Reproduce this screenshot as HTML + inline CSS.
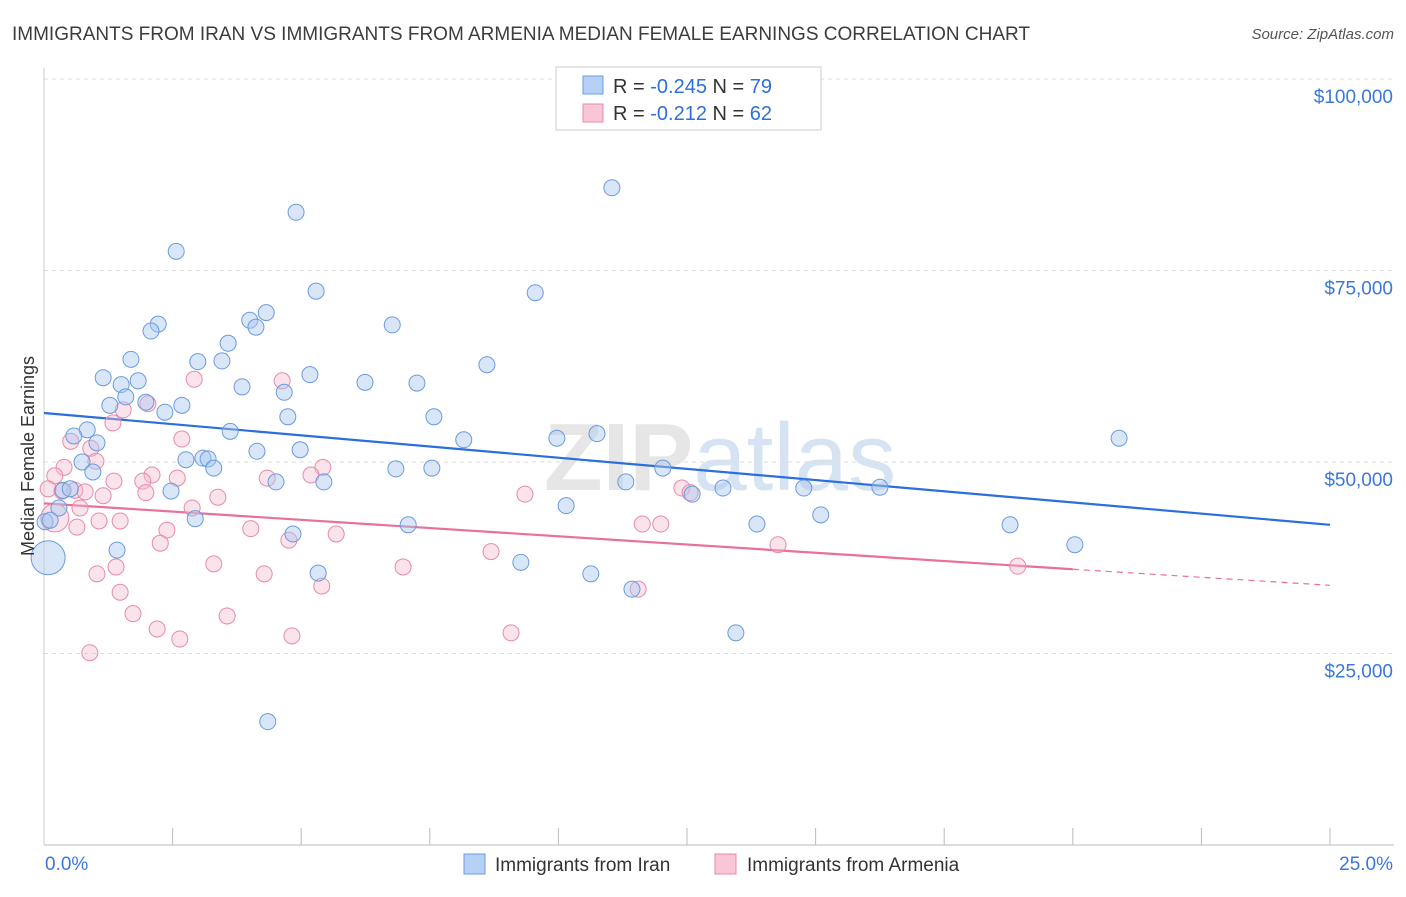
<!DOCTYPE html>
<html><head><meta charset="utf-8"><style>
body{margin:0;background:#fff;font-family:"Liberation Sans",sans-serif}
svg text{font-family:"Liberation Sans",sans-serif}
</style></head><body>
<svg id="chart" width="1406" height="892" xmlns="http://www.w3.org/2000/svg">
<text x="12" y="40" font-size="19" fill="#3c3c3c">IMMIGRANTS FROM IRAN VS IMMIGRANTS FROM ARMENIA MEDIAN FEMALE EARNINGS CORRELATION CHART</text>
<text x="1394" y="39" font-size="15" fill="#555" font-style="italic" text-anchor="end">Source: ZipAtlas.com</text>
<text x="720" y="490" font-size="96" fill="#e6e6e6" text-anchor="middle" font-weight="bold">ZIP<tspan fill="#d6e3f3" font-weight="normal">atlas</tspan></text>
<g id="grid"></g>
<g id="axes"></g>
<g id="trends"></g>
<g id="pts"></g>
<text transform="translate(34,456) rotate(-90)" font-size="18" fill="#333" text-anchor="middle">Median Female Earnings</text>
<g>
<rect x="556" y="67" width="265" height="63" fill="#fff" stroke="#ccc"/>
<rect x="583" y="76" width="20" height="18" fill="#b5d0f5" stroke="#6a9be0"/>
<text x="613" y="93" font-size="20" fill="#333">R = <tspan fill="#2f6fd8">-0.245</tspan>   N = <tspan fill="#2f6fd8">79</tspan></text>
<rect x="583" y="104" width="20" height="18" fill="#f8c6d6" stroke="#e88aa8"/>
<text x="613" y="120" font-size="20" fill="#333">R =  <tspan fill="#2f6fd8">-0.212</tspan>   N = <tspan fill="#2f6fd8">62</tspan></text>
</g>
<g>
<rect x="464" y="854" width="21" height="20" fill="#b5d0f5" stroke="#6a9be0"/>
<text x="495" y="871" font-size="19" fill="#333">Immigrants from Iran</text>
<rect x="715" y="854" width="21" height="20" fill="#f8c6d6" stroke="#e88aa8"/>
<text x="747" y="871" font-size="19" fill="#333">Immigrants from Armenia</text>
</g>
</svg>
<script>
const yTicks=[25000,50000,75000,100000];
const yTickLabels=["$25,000","$50,000","$75,000","$100,000"];
const xEndLabels=["0.0%","25.0%"];
const iranX=[11.04,4.90,2.57,5.29,9.55,4.32,4.00,4.12,2.22,2.08,6.77,3.58,1.69,2.99,3.46,8.61,1.15,5.17,1.50,1.83,6.24,7.25,3.85,4.67,1.59,1.28,1.98,2.68,2.35,4.74,7.58,3.62,0.84,0.58,1.03,20.90,9.97,10.75,8.16,4.14,4.98,3.09,2.76,3.19,3.30,0.74,0.95,6.84,7.54,12.03,4.51,5.44,11.31,2.47,0.37,0.51,13.20,14.77,16.25,12.60,10.15,0.29,2.94,15.10,7.08,13.86,18.78,0.02,0.12,1.42,20.04,4.84,9.27,5.33,10.63,11.43,13.45,4.35,0.08];
const iranY=[85.8,82.6,77.5,72.3,72.1,69.5,68.5,67.6,68.0,67.1,67.9,65.5,63.4,63.1,63.2,62.7,61.0,61.4,60.1,60.6,60.4,60.3,59.8,59.1,58.5,57.4,57.8,57.4,56.5,55.9,55.9,54.0,54.2,53.4,52.5,53.1,53.1,53.7,52.9,51.4,51.6,50.5,50.3,50.4,49.2,50.0,48.7,49.1,49.2,49.2,47.4,47.4,47.4,46.2,46.3,46.5,46.6,46.6,46.7,45.8,44.3,44.0,42.6,43.1,41.8,41.9,41.8,42.2,42.4,38.5,39.2,40.6,36.9,35.5,35.4,33.4,27.7,16.1,37.5];
const armX=[2.92,4.63,1.54,1.34,2.02,2.68,0.52,0.91,0.39,1.01,5.42,2.10,1.36,1.92,2.59,4.34,5.19,0.21,0.08,0.35,0.60,0.80,1.15,1.98,3.38,9.35,12.40,12.56,0.70,2.88,1.07,1.48,0.64,2.39,4.02,5.68,4.76,2.26,11.63,11.99,8.69,14.27,1.40,3.30,6.98,4.28,1.03,18.93,1.48,5.40,11.55,1.73,3.56,2.20,2.64,4.82,9.08,0.89,0.21];
const armY=[60.8,60.6,56.8,55.1,57.6,53.0,52.7,51.8,49.3,50.1,49.3,48.3,47.5,47.5,47.9,47.9,48.3,48.2,46.5,46.2,46.3,46.1,45.6,46.0,45.4,45.8,46.6,46.0,44.0,44.0,42.3,42.3,41.5,41.1,41.3,40.6,39.8,39.4,41.9,41.9,38.3,39.2,36.3,36.7,36.3,35.4,35.4,36.4,33.0,33.8,33.4,30.2,29.9,28.2,26.9,27.3,27.7,25.1,42.7];
const iranBig=[78];
const armBig=[58];
const iranTrend=[56.4,41.8];
const armTrend=[44.6,36.0,33.9];
const NS="http://www.w3.org/2000/svg";
const X=v=>44+v/25*1286;
const Y=v=>845-v/25000*191.5;
const Yk=v=>Y(v*1000);
function mk(tag,attrs,parent){const e=document.createElementNS(NS,tag);for(const k in attrs)e.setAttribute(k,attrs[k]);document.getElementById(parent).appendChild(e);return e;}
yTicks.forEach((t,i)=>{
const g=mk('line',{x1:44,x2:1394,y1:Y(t),y2:Y(t),stroke:'#ddd','stroke-dasharray':'4,4'},'grid');


const l=mk('text',{x:1393,y:Y(t)+24,'font-size':19,fill:'#3a78d8','text-anchor':'end'},'axes');
l.textContent=yTickLabels[i];


});
const ax=mk('line',{x1:44,x2:1394,y1:845,y2:845,stroke:'#bbb'},'axes');


const ay=mk('line',{x1:44,x2:44,y1:68,y2:845,stroke:'#ccc'},'axes');


for(let i=1;i<=10;i++){
const t=mk('line',{x1:X(i*2.5),x2:X(i*2.5),y1:828,y2:845,stroke:'#bbb'},'axes');


}
[[0,'start',45],[25,'end',1393]].forEach((p,i)=>{
const l=mk('text',{x:p[2],y:870,'font-size':19,fill:'#3a78d8','text-anchor':p[1]},'axes');
l.textContent=xEndLabels[i];


});
const bt=mk('line',{x1:X(0),y1:Yk(iranTrend[0]),x2:X(25),y2:Yk(iranTrend[1]),stroke:'#2a6fdb','stroke-width':2.2},'trends');


const pt=mk('line',{x1:X(0),y1:Yk(armTrend[0]),x2:X(20),y2:Yk(armTrend[1]),stroke:'#e8709a','stroke-width':2.2},'trends');


const pd=mk('line',{x1:X(20),y1:Yk(armTrend[1]),x2:X(25),y2:Yk(armTrend[2]),stroke:'#e8709a','stroke-width':1.2,'stroke-dasharray':'6,5'},'trends');


armX.forEach((x,i)=>{
const c=mk('circle',{cx:X(x),cy:Yk(armY[i]),r:armBig.includes(i)?14:8,fill:'rgba(246,184,204,0.4)',stroke:'#e88aa8','stroke-width':1},'pts');


});
iranX.forEach((x,i)=>{
const c=mk('circle',{cx:X(x),cy:Yk(iranY[i]),r:iranBig.includes(i)?17:8,fill:'rgba(169,200,240,0.45)',stroke:'#6a9be0','stroke-width':1},'pts');


});
</script>
</body></html>
